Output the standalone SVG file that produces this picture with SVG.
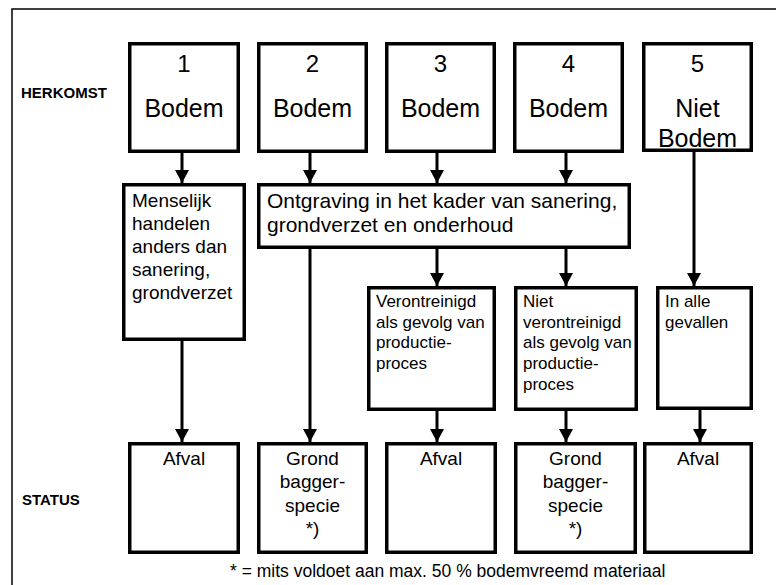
<svg xmlns="http://www.w3.org/2000/svg" width="776" height="585" viewBox="0 0 776 585">
<defs>
<style>
.box{fill:#fff;stroke:#000;stroke-width:3.5}
.con{fill:none;stroke:#000;stroke-width:3;marker-end:url(#ah)}
.frame{fill:none;stroke:#000;stroke-width:1.5}
text{font-family:"Liberation Sans",Arial,sans-serif;fill:#000}
.lbl{font-size:15px;font-weight:bold}
.num{font-size:24px;text-anchor:middle}
.big{font-size:25px;text-anchor:middle}
.mid{font-size:19px}
.wide{font-size:21px}
.sm{font-size:17px}
.st{font-size:19px;text-anchor:middle}
.foot{font-size:17.5px}
</style>
<marker id="ah" markerUnits="userSpaceOnUse" markerWidth="14" markerHeight="14" viewBox="0 0 14 14" refX="13" refY="7" orient="auto">
<path d="M0,0 L13,7 L0,14 Z" fill="#000"/>
</marker>
</defs>
<path class="frame" d="M12,585 L12,9 L776,9"/>
<text class="lbl" x="21" y="98">HERKOMST</text>
<text class="lbl" x="22" y="505">STATUS</text>

<g id="connectors">
<line class="con" x1="182" y1="153" x2="182" y2="183"/>
<line class="con" x1="310" y1="153" x2="310" y2="183"/>
<line class="con" x1="437" y1="153" x2="437" y2="183"/>
<line class="con" x1="566" y1="153" x2="566" y2="183"/>
<line class="con" x1="694" y1="152" x2="694" y2="286"/>
<line class="con" x1="437" y1="249" x2="437" y2="286"/>
<line class="con" x1="566" y1="249" x2="566" y2="286"/>
<line class="con" x1="182" y1="341" x2="182" y2="442"/>
<line class="con" x1="310" y1="249" x2="310" y2="442"/>
<line class="con" x1="437" y1="411" x2="437" y2="442"/>
<line class="con" x1="566" y1="411" x2="566" y2="442"/>
<line class="con" x1="700" y1="410" x2="700" y2="442"/>
</g>

<g id="h1"><rect class="box" x="129.75" y="43.75" width="108.5" height="107.5"/><text class="num" x="184" y="72">1</text><text class="big" x="184" y="117">Bodem</text></g>
<g id="h2"><rect class="box" x="258.75" y="43.75" width="107.5" height="107.5"/><text class="num" x="312.5" y="72">2</text><text class="big" x="312.5" y="117">Bodem</text></g>
<g id="h3"><rect class="box" x="386.75" y="43.75" width="107.5" height="107.5"/><text class="num" x="440.5" y="72">3</text><text class="big" x="440.5" y="117">Bodem</text></g>
<g id="h4"><rect class="box" x="514.75" y="43.75" width="107.5" height="107.5"/><text class="num" x="568.5" y="72">4</text><text class="big" x="568.5" y="117">Bodem</text></g>
<g id="h5"><rect class="box" x="643.75" y="43.75" width="107.5" height="106.5"/><text class="num" x="697.5" y="72">5</text><text class="big" x="697.5" y="117">Niet</text><text class="big" x="697.5" y="147">Bodem</text></g>

<g id="m1"><rect class="box" x="123.75" y="184.75" width="120.5" height="154.5"/>
<text class="mid" x="132"><tspan x="132" y="207">Menselijk</tspan><tspan x="132" y="230">handelen</tspan><tspan x="132" y="253">anders dan</tspan><tspan x="132" y="276">sanering,</tspan><tspan x="132" y="299">grondverzet</tspan></text></g>
<g id="m2"><rect class="box" x="258.75" y="184.75" width="370.5" height="62.5"/>
<text class="wide"><tspan x="267" y="208">Ontgraving in het kader van sanering,</tspan><tspan x="267" y="232">grondverzet en onderhoud</tspan></text></g>

<g id="p1"><rect class="box" x="368.75" y="287.75" width="125.5" height="121.5"/>
<text class="sm"><tspan x="376" y="307">Verontreinigd</tspan><tspan x="376" y="328">als gevolg van</tspan><tspan x="376" y="348">productie-</tspan><tspan x="376" y="369">proces</tspan></text></g>
<g id="p2"><rect class="box" x="515.75" y="287.75" width="120.5" height="121.5"/>
<text class="sm"><tspan x="523" y="307">Niet</tspan><tspan x="523" y="328">verontreinigd</tspan><tspan x="523" y="348">als gevolg van</tspan><tspan x="523" y="369">productie-</tspan><tspan x="523" y="390">proces</tspan></text></g>
<g id="p3"><rect class="box" x="657.75" y="287.75" width="93.5" height="120.5"/>
<text class="sm"><tspan x="665" y="307">In alle</tspan><tspan x="665" y="328">gevallen</tspan></text></g>

<g id="s1"><rect class="box" x="129.75" y="443.75" width="108.5" height="108.5"/><text class="st" x="184" y="465">Afval</text></g>
<g id="s2"><rect class="box" x="258.75" y="443.75" width="107.5" height="108.5"/><text class="st"><tspan x="312.5" y="465">Grond</tspan><tspan x="312.5" y="488">bagger-</tspan><tspan x="312.5" y="512">specie</tspan><tspan x="312.5" y="535">*)</tspan></text></g>
<g id="s3"><rect class="box" x="386.75" y="443.75" width="108.5" height="108.5"/><text class="st" x="441" y="465">Afval</text></g>
<g id="s4"><rect class="box" x="515.75" y="443.75" width="119.5" height="108.5"/><text class="st"><tspan x="575.5" y="465">Grond</tspan><tspan x="575.5" y="488">bagger-</tspan><tspan x="575.5" y="512">specie</tspan><tspan x="575.5" y="535">*)</tspan></text></g>
<g id="s5"><rect class="box" x="644.75" y="443.75" width="106.5" height="108.5"/><text class="st" x="698" y="465">Afval</text></g>

<text class="foot" x="230" y="577">* = mits voldoet aan max. 50 % bodemvreemd materiaal</text>
</svg>
